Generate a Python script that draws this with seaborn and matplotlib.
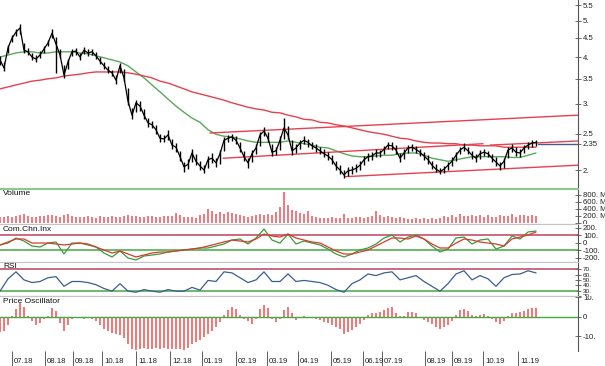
import numpy as np
import matplotlib
matplotlib.use("Agg")
import matplotlib.pyplot as plt
import matplotlib.transforms as mtransforms
from matplotlib.ticker import NullLocator
import seaborn as sns

sns.set_theme(style="white")
plt.rcParams['font.family'] = ['Liberation Sans Narrow', 'Liberation Sans', 'DejaVu Sans']

# ---------------- data (one sample = one bar position) ----------------
close = [3.93,3.74,4.23,4.49,4.66,4.78,4.17,4.13,4.00,3.95,
         4.05,4.20,4.36,4.63,4.33,4.05,3.58,3.88,4.13,4.15,
         4.00,4.17,4.10,4.13,4.03,3.90,3.79,3.69,3.63,3.47,
         3.79,3.52,3.05,2.80,3.02,2.96,2.80,2.67,2.64,2.56,
         2.43,2.42,2.48,2.33,2.30,2.17,2.04,2.07,2.22,2.11,
         2.05,2.00,2.13,2.15,2.09,2.21,2.40,2.43,2.45,2.40,
         2.29,2.17,2.09,2.21,2.29,2.48,2.54,2.43,2.23,2.25,
         2.40,2.59,2.48,2.25,2.29,2.36,2.40,2.37,2.32,2.29,
         2.25,2.21,2.18,2.13,2.05,2.00,1.94,1.99,2.00,2.02,
         2.06,2.13,2.17,2.18,2.22,2.22,2.27,2.33,2.32,2.26,
         2.15,2.22,2.29,2.30,2.27,2.23,2.18,2.13,2.06,2.01,
         1.98,2.01,2.06,2.11,2.19,2.26,2.30,2.25,2.19,2.15,
         2.21,2.23,2.21,2.15,2.10,2.05,2.11,2.26,2.29,2.23,
         2.22,2.29,2.33,2.36,2.37]
high = [4.02,3.88,4.30,4.58,4.74,4.90,4.35,4.22,4.10,4.05,
        4.14,4.28,4.45,4.75,4.52,4.20,3.80,3.95,4.20,4.22,
        4.10,4.25,4.19,4.20,4.12,4.00,3.88,3.78,3.70,3.58,
        3.85,3.72,3.30,2.92,3.08,3.05,2.90,2.76,2.70,2.64,
        2.50,2.48,2.55,2.42,2.36,2.25,2.10,2.14,2.27,2.20,
        2.11,2.06,2.18,2.22,2.15,2.26,2.45,2.48,2.50,2.46,
        2.37,2.25,2.15,2.26,2.34,2.53,2.60,2.52,2.35,2.31,
        2.46,2.75,2.62,2.40,2.35,2.41,2.47,2.42,2.38,2.34,
        2.30,2.27,2.23,2.19,2.12,2.06,2.00,2.04,2.05,2.07,
        2.11,2.18,2.22,2.23,2.27,2.26,2.32,2.38,2.37,2.33,
        2.22,2.27,2.33,2.35,2.32,2.28,2.24,2.19,2.12,2.07,
        2.03,2.05,2.10,2.16,2.24,2.31,2.36,2.31,2.25,2.20,
        2.26,2.28,2.25,2.21,2.16,2.10,2.15,2.30,2.34,2.30,
        2.27,2.33,2.37,2.40,2.41]
low = [3.80,3.66,4.10,4.38,4.55,4.62,4.10,4.05,3.92,3.88,
       3.97,4.10,4.27,4.50,3.62,3.98,3.52,3.72,4.02,4.06,
       3.93,4.08,4.03,4.04,3.96,3.84,3.72,3.62,3.55,3.40,
       3.62,3.45,2.98,2.74,2.85,2.88,2.74,2.61,2.58,2.50,
       2.38,2.37,2.40,2.28,2.24,2.12,1.98,2.01,2.10,2.06,
       2.00,1.96,2.02,2.09,2.04,2.08,2.25,2.37,2.39,2.34,
       2.24,2.12,2.02,2.10,2.20,2.32,2.46,2.37,2.18,2.19,
       2.26,2.42,2.42,2.19,2.22,2.28,2.34,2.31,2.27,2.24,
       2.20,2.16,2.13,2.07,2.00,1.95,1.91,1.93,1.95,1.97,
       2.00,2.06,2.11,2.13,2.16,2.17,2.21,2.27,2.26,2.20,
       2.10,2.14,2.22,2.25,2.22,2.18,2.13,2.08,2.01,1.97,
       1.95,1.96,2.00,2.05,2.12,2.20,2.25,2.20,2.14,2.10,
       2.14,2.18,2.16,2.10,2.05,2.00,2.03,2.15,2.24,2.18,
       2.16,2.22,2.27,2.31,2.32]
volume_m = [180,160,210,170,190,230,260,200,180,170,
            190,210,240,220,200,180,230,250,190,170,
            160,180,200,170,150,190,170,160,210,180,
            170,200,230,190,210,180,160,200,190,170,
            180,200,210,190,280,230,170,160,180,150,
            220,260,400,330,250,300,270,320,280,260,
            220,200,180,210,230,250,220,260,240,300,
            450,886,500,380,330,280,250,340,200,170,
            150,140,130,160,140,150,260,150,140,160,
            170,150,180,200,340,220,180,200,160,150,
            160,130,120,110,140,120,130,110,150,120,
            140,200,180,220,160,250,210,190,230,200,
            240,180,220,170,160,230,200,210,250,180,
            220,240,200,230,210]
price_osc = [-8,-7,-4,0.5,4,7,5,0.5,-2,-4.3,
             -3,-1,0.5,4.5,3,-3,-7,-4,-1,-0.5,
             -0.5,-1,-0.5,-1,-2,-4.3,-6,-7.5,-8.5,-9,
             -9.5,-11,-14,-16.5,-17,-16.5,-16,-16.5,-16.5,-16,
             -16.5,-16,-16.5,-16.5,-16.5,-16.5,-17,-16,-14,-13,
             -12,-10.5,-9,-7,-5,-2.5,1,3.5,5.2,4,
             1,-1,-2,-3.5,-1,4,6,4.5,-1,-2.6,
             -1,3.5,5.2,2,-1.7,-0.5,0.3,-0.3,-0.7,-1.3,
             -1.7,-2.5,-3.2,-4.2,-5.2,-6.2,-8.6,-8,-6.5,-5,
             -3.5,-1.5,1,1.9,2.2,2.6,3.5,4.8,5.2,2,
             0.3,0.5,2.4,2.6,1.8,-0.5,-1.5,-2.6,-3.8,-5,
             -6,-5.2,-4,-2,1,3.5,4,2.8,1.2,0.5,
             1.2,1.4,0.5,-1.2,-2.6,-3.5,-2.2,0.5,1.8,2.2,
             2.6,3.2,4,4.5,4.7]

# indicator series, one value every second bar position
ma_fast = [4.00,4.05,4.10,4.13,4.13,4.10,4.10,4.13,4.13,4.13,
           4.10,4.08,4.03,3.98,3.93,3.88,3.79,3.65,3.52,3.37,
           3.23,3.09,2.96,2.85,2.75,2.68,2.56,2.49,2.46,2.45,
           2.42,2.39,2.37,2.37,2.37,2.37,2.39,2.37,2.35,2.33,
           2.30,2.29,2.25,2.21,2.18,2.17,2.17,2.18,2.19,2.19,
           2.21,2.22,2.22,2.19,2.15,2.13,2.11,2.13,2.15,2.17,
           2.17,2.17,2.17,2.17,2.16,2.16,2.19,2.22]
ma_slow = [3.29,3.33,3.37,3.41,3.45,3.47,3.50,3.52,3.56,3.58,
           3.60,3.63,3.65,3.65,3.65,3.65,3.63,3.60,3.56,3.52,
           3.45,3.41,3.35,3.29,3.23,3.19,3.15,3.11,3.07,3.02,
           2.98,2.94,2.91,2.89,2.85,2.84,2.80,2.77,2.73,2.72,
           2.68,2.67,2.64,2.62,2.59,2.56,2.53,2.51,2.49,2.46,
           2.43,2.42,2.39,2.37,2.36,2.36,2.35,2.35,2.33,2.33,
           2.32,2.32,2.32,2.30,2.30,2.30,2.30,2.30]
cci_fast = [-33,-7,60,20,-47,-60,-7,7,-153,-7,
            -7,-33,-60,-140,-193,-113,-207,-233,-180,-167,
            -153,-127,-113,-100,-87,-73,-73,-47,-20,33,
            47,-20,60,180,33,-7,113,-20,20,-7,
            -33,-87,-153,-193,-153,-100,-73,-20,60,100,
            7,73,100,47,-47,-127,-87,60,73,-20,
            33,47,-87,-47,87,47,140,153]
cci_slow = [-33,7,47,47,-7,-7,-7,-20,-33,-20,
            -7,-20,-60,-100,-140,-113,-153,-193,-167,-140,
            -127,-127,-113,-100,-87,-73,-47,-20,7,33,
            20,7,47,113,87,73,113,60,33,7,
            -7,-60,-113,-153,-153,-127,-100,-47,7,60,
            60,47,87,47,-20,-73,-73,-7,47,33,
            7,-7,-20,-47,47,73,100,140]
rsi = [29,52,65,50,45,47,54,56,38,47,
       47,45,41,34,29,43,29,27,32,29,
       27,32,29,29,36,31,49,47,65,63,
       54,45,50,65,47,47,61,47,49,47,
       45,40,32,27,43,50,61,58,63,65,
       50,54,58,47,38,29,43,61,67,50,
       58,52,38,54,60,61,67,63]

# trend lines: (start position, end position), (start price, end price)
trend_pos = [(52.5, 144.5), (55.75, 120.75), (122.5, 144.5), (86.25, 144.5)]
trend_val = [(2.51, 2.80), (2.15, 2.35), (2.33, 2.39), (1.92, 2.06)]
last_price = 2.35
last_pos = (134.5, 144.5)

month_pos = [3.0, 11.25, 18.25, 25.5, 34.0, 42.5, 50.5, 59.0, 66.75, 74.5,
             82.75, 90.75, 95.5, 106.25, 113.0, 120.75, 129.5]
month_lbl = ["07.18", "08.18", "09.18", "10.18", "11.18", "12.18", "01.19",
             "02.19", "03.19", "04.19", "05.19", "06.19", "07.19", "08.19",
             "09.19", "10.19", "11.19"]

price_ticks = [2, 2.35, 2.5, 3, 3.5, 4, 4.5, 5, 5.5]
price_tlbl = ["2.", "2.35", "2.5", "3.", "3.5", "4.", "4.5", "5.", "5.5"]
vol_ticks = [0, 200e6, 400e6, 600e6, 800e6]
vol_tlbl = ["0.", "200. M", "400. M", "600. M", "800. M"]
cci_ticks = [200, 100, 0, -100, -200]
cci_tlbl = ["200.", "100.", "0", "-100.", "-200."]
rsi_ticks = [70, 60, 50, 40, 30, 20]
rsi_tlbl = ["70.", "60.", "50.", "40.", "30.", "20."]
osc_ticks = [10, 0, -10]
osc_tlbl = ["10.", "0", "-10."]

# ---------------- figure ----------------
FW, FH = 605, 366
fig = plt.figure(figsize=(FW / 100, FH / 100), dpi=100)
AX_W = 578 / FW


def rect(top, bottom):
    return [0, 1 - bottom / FH, AX_W, (bottom - top) / FH]


panels = {}
ax_p = fig.add_axes(rect(0, 188))
ax_v = fig.add_axes(rect(189, 224), sharex=ax_p)
ax_c = fig.add_axes(rect(224, 262), sharex=ax_p)
ax_r = fig.add_axes(rect(262, 296), sharex=ax_p)
ax_o = fig.add_axes(rect(296, 351), sharex=ax_p)
panel_rows = [(ax_p, 0, 188), (ax_v, 189, 224), (ax_c, 224, 262),
              (ax_r, 262, 296), (ax_o, 296, 351)]

RED = '#e8404e'
GREEN = '#5aa85a'
LEVEL_RED = '#c0405a'
LEVEL_GREEN = '#44a844'
GRAYLINE = '#c4c4c4'

idx = np.arange(len(close))
idx2 = np.arange(len(ma_fast)) * 2

# price panel
ax_p.set_yscale('log')
ax_p.vlines(idx, low, high, color='black', lw=1.0, zorder=4)
sns.lineplot(x=idx, y=close, ax=ax_p, color='black', lw=0.9, zorder=4)
sns.lineplot(x=idx2, y=ma_fast, ax=ax_p, color=GREEN, lw=1.0, zorder=3)
sns.lineplot(x=idx2, y=ma_slow, ax=ax_p, color=RED, lw=1.0, zorder=3)
for (x0, x1), (y0, y1) in zip(trend_pos, trend_val):
    ax_p.plot([x0, x1], [y0, y1], color=RED, lw=1.0, zorder=3)
ax_p.plot(list(last_pos), [last_price, last_price], color='#4a5a8c', lw=1.0, zorder=3)
ax_p.set_ylim(1.791, 5.675)
ax_p.yaxis.set_minor_locator(NullLocator())
ax_p.set_yticks(price_ticks)
ax_p.set_yticklabels(price_tlbl)

# volume
ax_v.bar(idx, np.array(volume_m) * 1e6, width=0.6, color='#ee7a82', lw=0)
ax_v.set_ylim(-28.6e6, 971e6)
ax_v.set_yticks(vol_ticks)
ax_v.set_yticklabels(vol_tlbl)

# commodity channel index
ax_c.axhline(100, color=LEVEL_RED, lw=1.1, zorder=1)
ax_c.axhline(-100, color=LEVEL_GREEN, lw=1.1, zorder=1)
sns.lineplot(x=idx2, y=cci_fast, ax=ax_c, color='#3c9a3c', lw=0.9, zorder=3)
sns.lineplot(x=idx2, y=cci_slow, ax=ax_c, color='#d83a30', lw=0.9, zorder=3)
ax_c.set_ylim(-260, 247)
ax_c.set_yticks(cci_ticks)
ax_c.set_yticklabels(cci_tlbl)

# RSI
ax_r.axhline(70, color=LEVEL_RED, lw=1.1, zorder=1)
ax_r.axhline(30, color=LEVEL_GREEN, lw=1.1, zorder=1)
sns.lineplot(x=idx2, y=rsi, ax=ax_r, color='#3a5f8f', lw=0.9, zorder=3)
ax_r.set_ylim(21.5, 83.3)
ax_r.set_yticks(rsi_ticks)
ax_r.set_yticklabels(rsi_tlbl)

# price oscillator
ax_o.bar(idx, price_osc, width=0.6, color='#f07a7a', lw=0, zorder=2)
ax_o.axhline(0, color=LEVEL_GREEN, lw=1.0, zorder=3)
ax_o.set_ylim(-17.5, 10.7)
ax_o.set_yticks(osc_ticks)
ax_o.set_yticklabels(osc_tlbl)

# styling
for ax, top, bottom in panel_rows:
    ax.set_facecolor('white')
    ax.grid(False)
    ax.set_xlabel('')
    ax.set_ylabel('')
    ax.spines['left'].set_visible(False)
    ax.spines['right'].set_color('#555555')
    ax.spines['right'].set_linewidth(0.8)
    for s in ['top', 'bottom']:
        ax.spines[s].set_color(GRAYLINE)
        ax.spines[s].set_linewidth(0.8)
    ax.yaxis.tick_right()
    size = 4.6 if ax is ax_r else 5.6
    ax.tick_params(axis='y', which='major', direction='inout', length=4,
                   width=0.6, pad=1.5, labelsize=size, colors='#555555',
                   labelcolor='#222222', right=True, left=False)
    ax.tick_params(axis='x', which='both', bottom=False, top=False,
                   labelbottom=False)
    # labels are cut at the panel edges, as in the original terminal chart
    clip = mtransforms.TransformedBbox(
        mtransforms.Bbox([[0, 1 - bottom / FH], [1, 1 - top / FH]]),
        fig.transFigure)
    for lbl in ax.get_yticklabels():
        lbl.set_clip_box(clip)
        lbl.set_clip_on(True)

ax_p.spines['top'].set_visible(False)
ax_p.spines['bottom'].set_color('#8cc88c')
ax_v.spines['top'].set_color('#8cc88c')
ax_o.spines['bottom'].set_visible(False)

ax_p.set_xlim(0, 144.5)

# x axis ticks and labels
ax_o.set_xticks(month_pos)
ax_o.set_xticklabels([''] * len(month_pos))
ax_o.tick_params(axis='x', bottom=True, direction='out', length=11,
                 width=0.6, color='#444444')
blend = mtransforms.blended_transform_factory(ax_o.transData, ax_o.transAxes)
lbl_tr = mtransforms.offset_copy(blend, fig=fig, x=2, y=0, units='dots')
for p, t in zip(month_pos, month_lbl):
    ax_o.text(p, -0.19, t, transform=lbl_tr, ha='left', va='center',
              fontsize=5.6, color='#222222')

# panel titles
for ax, t in [(ax_v, 'Volume'), (ax_c, 'Com.Chn.Inx'), (ax_r, 'RSI'),
              (ax_o, 'Price Oscillator')]:
    ax.text(0.005, 0.96, t, transform=ax.transAxes, ha='left', va='top',
            fontsize=6, color='#111111', zorder=6)

fig.savefig('out.png', dpi=100, facecolor='white')
